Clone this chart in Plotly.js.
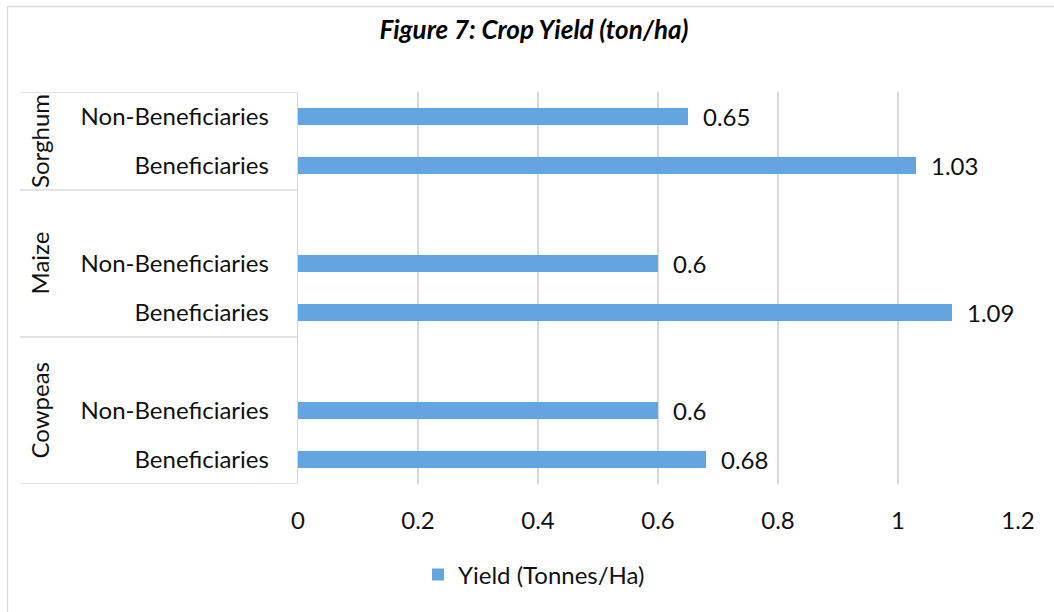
<!DOCTYPE html>
<html>
<head>
<meta charset="utf-8">
<script src="https://cdn.plot.ly/plotly-3.0.1.min.js"></script>
<style>html,body{margin:0;padding:0;background:#fff;}#chart{width:1054px;height:612px;}</style>
</head>
<body>
<div id="chart"></div>
<script>
// ---- data (top to bottom as in the chart) ----
const crops = ['Sorghum', 'Maize', 'Cowpeas'];
const groups = ['Non-Beneficiaries', 'Beneficiaries'];
const sorghumYield = [0.65, 1.03];
const maizeYield = [0.6, 1.09];
const cowpeasYield = [0.6, 0.68];
const blankRowBefore = [false, true, true]; // empty row at top of each crop block
const seriesName = 'Yield (Tonnes/Ha)';
const xTicks = [0, 0.2, 0.4, 0.6, 0.8, 1, 1.2];
const titleText = '<b><i>Figure 7: Crop Yield (ton/ha)</i></b>';

const yieldByCrop = [sorghumYield, maizeYield, cowpeasYield];

// build category list
const cats = [], catText = [], barY = [], barX = [];
const blockBounds = [-0.5];
const blockCenters = [];
crops.forEach((crop, ci) => {
  const start = cats.length;
  if (blankRowBefore[ci]) { cats.push(crop + '|blank'); catText.push(''); }
  groups.forEach((g, gi) => {
    const key = crop + '|' + g;
    cats.push(key); catText.push(g);
    barY.push(key); barX.push(yieldByCrop[ci][gi]);
  });
  const end = cats.length;
  blockBounds.push(end - 0.5);
  blockCenters.push((start + end - 1) / 2);
});

const FONT = 'Lato, "Noto Sans", sans-serif';
const TXT = '#111111';
const GRID = '#d9d9d9';
const BLUE = '#62a5e0';
const FS = 24;

// plot-area geometry in px (for paper coordinates of decorations)
const L = 298, R = 36, T = 92, B = 128, W = 1054, H = 612;
const pw = W - L - R, ph = H - T - B;
const px2paperX = p => (p - L) / pw;
const px2paperY = p => (H - B - p) / ph;

const shapes = [];
// outer chart border
shapes.push({type: 'rect', xref: 'paper', yref: 'paper',
  x0: px2paperX(7.5), x1: px2paperX(1070), y0: px2paperY(630), y1: px2paperY(6.5),
  line: {color: GRID, width: 1.3}, fillcolor: 'rgba(0,0,0,0)', layer: 'below'});
// block dividers in the label area
blockBounds.forEach(b => {
  shapes.push({type: 'line', xref: 'paper', yref: 'y',
    x0: px2paperX(20), x1: 0, y0: b, y1: b,
    line: {color: GRID, width: 1.3}});
});

const annotations = [];
crops.forEach((crop, ci) => {
  annotations.push({xref: 'paper', yref: 'y', x: px2paperX(39), y: blockCenters[ci],
    text: crop, textangle: -90, showarrow: false, xanchor: 'center', yanchor: 'middle',
    font: {family: FONT, size: FS, color: TXT}});
});
barX.forEach((v, i) => {
  annotations.push({xref: 'x', yref: 'y', x: v, y: barY[i], text: String(v),
    showarrow: false, xanchor: 'left', yanchor: 'middle', xshift: 13,
    font: {family: FONT, size: FS, color: TXT}});
});

const trace = {
  type: 'bar', orientation: 'h', x: barX, y: barY, name: seriesName,
  marker: {color: BLUE}, showlegend: true, hoverinfo: 'x+y'
};

const layout = {
  width: W, height: H,
  margin: {l: L, r: R, t: T, b: B, pad: 0},
  paper_bgcolor: '#fff', plot_bgcolor: '#fff',
  font: {family: FONT, size: FS, color: TXT},
  title: {text: titleText, x: 534 / W, xref: 'container', xanchor: 'center',
    y: 1 - 30 / H, yref: 'container', yanchor: 'middle',
    font: {family: FONT, size: 26, color: '#000'}},
  bargap: 0.65,
  xaxis: {range: [0, 1.2], tickmode: 'array', tickvals: xTicks, ticktext: xTicks.map(String),
    showgrid: true, gridcolor: GRID, gridwidth: 1.3, zeroline: false, showline: false,
    ticks: 'outside', ticklen: 15, tickcolor: 'rgba(0,0,0,0)',
    tickfont: {family: FONT, size: FS, color: TXT}, fixedrange: true},
  yaxis: {type: 'category', categoryorder: 'array', categoryarray: cats,
    range: [cats.length - 0.5, -0.5], tickmode: 'array', tickvals: cats, ticktext: catText,
    showgrid: false, zeroline: false, showline: true, linecolor: GRID, linewidth: 1.3,
    ticks: 'outside', ticklen: 23, tickcolor: 'rgba(0,0,0,0)',
    tickfont: {family: FONT, size: FS, color: TXT}, fixedrange: true},
  legend: {orientation: 'h', x: px2paperX(418), xanchor: 'left', y: px2paperY(575), yanchor: 'middle',
    font: {family: FONT, size: FS, color: TXT}, itemwidth: 30, traceorder: 'normal'},
  shapes: shapes,
  annotations: annotations
};

Plotly.newPlot('chart', [trace], layout, {displayModeBar: false, staticPlot: true});
</script>
</body>
</html>
